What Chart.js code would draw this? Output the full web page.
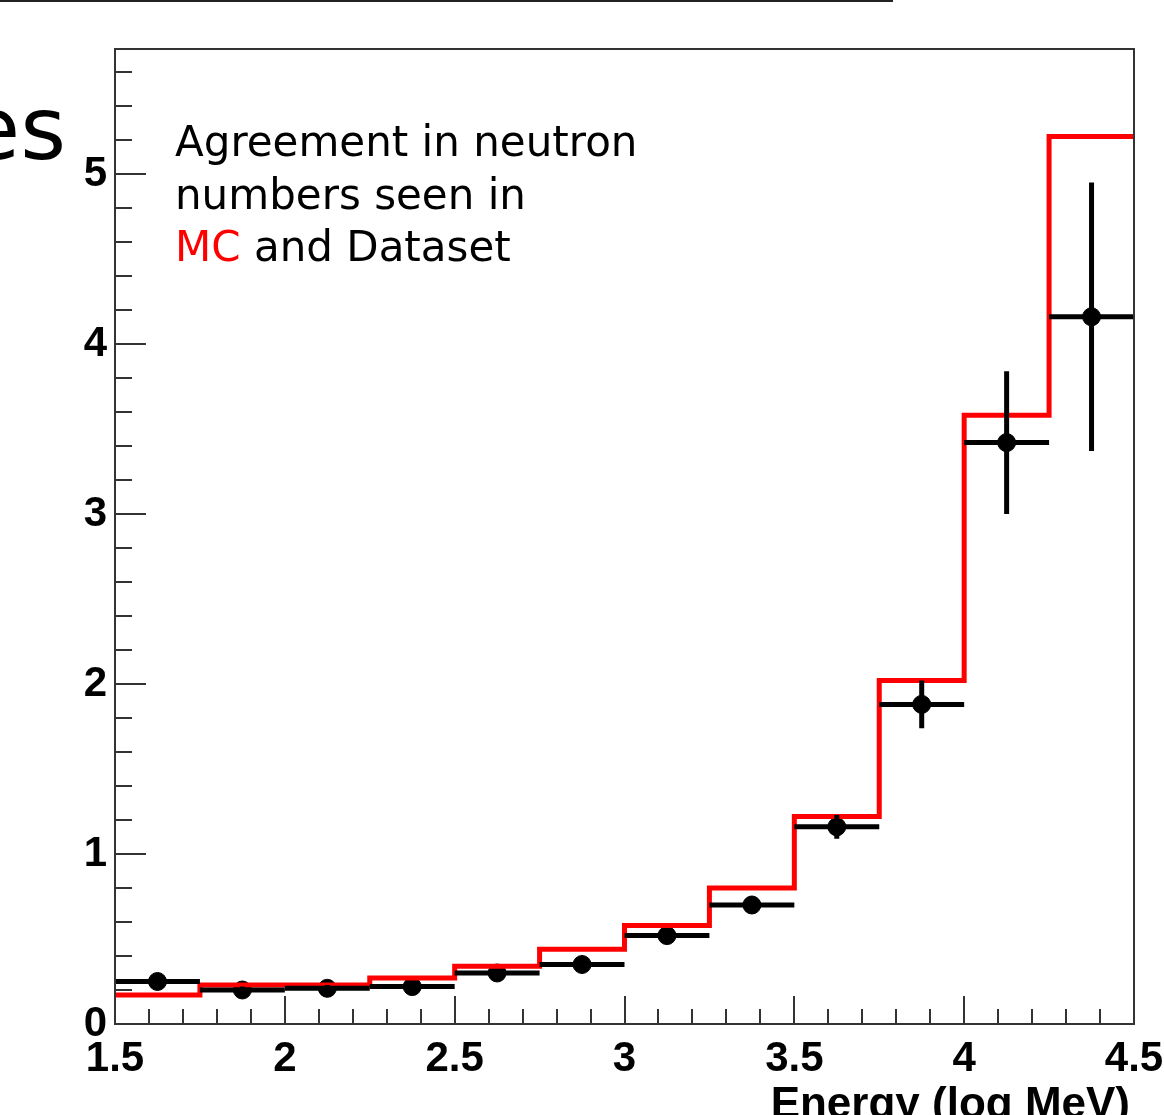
<!DOCTYPE html>
<html>
<head>
<meta charset="utf-8">
<script src="https://cdn.jsdelivr.net/npm/chart.js@4.4.0/dist/chart.umd.min.js"></script>
<style>
  body { margin: 0; background: #fff; }
  #wrap { position: relative; width: 1164px; height: 1115px; overflow: hidden; }
  #topline { position: absolute; left: 0; top: 0; width: 893px; height: 2px; background: #222; }
  #big { position: absolute; left: -34px; top: 85px; font: 88px/88px "DejaVu Sans"; color: #000; }
  #note { position: absolute; left: 175px; top: 116px; font: 42px/52.5px "DejaVu Sans"; color: #000; white-space: nowrap; }
  #note .mc { color: #ff0000; }
  canvas { position: absolute; left: 0; top: 0; }
</style>
</head>
<body>
<div id="wrap">
  <canvas id="histChart" width="1164" height="1115"></canvas>
  <div id="topline"></div>
  <div id="big">es</div>
  <div id="note">Agreement in neutron<br>numbers seen in<br><span class="mc">MC</span> and Dataset</div>
</div>
<script>
// bins in log energy, 0.25 wide
const binLo = [1.5, 1.75, 2.0, 2.25, 2.5, 2.75, 3.0, 3.25, 3.5, 3.75, 4.0, 4.25];
const binWidth = 0.25;
// MC histogram (red)
const mcValues = [0.17, 0.23, 0.23, 0.27, 0.34, 0.44, 0.58, 0.80, 1.22, 2.02, 3.58, 5.22];
// dataset points (black) and their errors
const dataValues = [0.25, 0.20, 0.21, 0.22, 0.30, 0.35, 0.52, 0.70, 1.16, 1.88, 3.42, 4.16];
const dataErrors = [0.02, 0.02, 0.02, 0.02, 0.02, 0.03, 0.04, 0.05, 0.07, 0.14, 0.42, 0.79];
const xTickValues = [1.5, 2, 2.5, 3, 3.5, 4, 4.5];
const yTickValues = [0, 1, 2, 3, 4, 5];
const xMin = 1.5, xMax = 4.5, yMin = 0, yMax = 5.735;

// step line: one point per bin edge, last bin repeated to close at 4.5
const stepPoints = binLo.map((x, i) => ({ x: x, y: mcValues[i] }));
stepPoints.push({ x: binLo[binLo.length - 1] + binWidth, y: mcValues[mcValues.length - 1] });
const dataPoints = binLo.map((x, i) => ({ x: x + binWidth / 2, y: dataValues[i] }));

const frameColor = "#333";

// ROOT-like frame, inward ticks, error bars and axis title
const rootStyle = {
  id: "rootStyle",
  afterDatasetsDraw(chart) {
    const ctx = chart.ctx;
    const xs = chart.scales.x, ys = chart.scales.y;
    ctx.save();
    ctx.strokeStyle = "#000";
    ctx.lineWidth = 5;
    ctx.lineCap = "butt";
    binLo.forEach((lo, i) => {
      const yp = ys.getPixelForValue(dataValues[i]);
      const xc = xs.getPixelForValue(lo + binWidth / 2);
      ctx.beginPath();
      ctx.moveTo(xs.getPixelForValue(lo), yp);
      ctx.lineTo(xs.getPixelForValue(lo + binWidth), yp);
      ctx.moveTo(xc, ys.getPixelForValue(dataValues[i] - dataErrors[i]));
      ctx.lineTo(xc, ys.getPixelForValue(dataValues[i] + dataErrors[i]));
      ctx.stroke();
    });
    ctx.restore();
  },
  afterDraw(chart) {
    const ctx = chart.ctx;
    const a = chart.chartArea;
    const xs = chart.scales.x, ys = chart.scales.y;
    ctx.save();
    ctx.strokeStyle = frameColor;
    ctx.lineWidth = 2;
    ctx.strokeRect(a.left, a.top, a.right - a.left, a.bottom - a.top);
    ctx.beginPath();
    // y ticks every 0.2, major each 1
    for (let k = 0; k * 0.2 <= yMax; k++) {
      const yp = Math.round(ys.getPixelForValue(k * 0.2));
      const len = k % 5 === 0 ? 31 : 17;
      ctx.moveTo(a.left, yp);
      ctx.lineTo(a.left + len, yp);
    }
    // x ticks every 0.1, major each 0.5
    for (let k = 0; k <= 30; k++) {
      const xp = Math.round(xs.getPixelForValue(xMin + k * 0.1));
      const len = k % 5 === 0 ? 28 : 15;
      ctx.moveTo(xp, a.bottom);
      ctx.lineTo(xp, a.bottom - len);
    }
    ctx.stroke();
    ctx.fillStyle = "#000";
    ctx.font = "bold 44px 'Liberation Sans'";
    ctx.textAlign = "right";
    ctx.textBaseline = "alphabetic";
    ctx.fillText("Energy (log MeV)", 1130, 1118);
    ctx.restore();
  }
};

new Chart(document.getElementById("histChart"), {
  type: "scatter",
  data: {
    datasets: [
      {
        type: "line",
        label: "MC",
        data: stepPoints,
        stepped: "before",
        borderColor: "#ff0000",
        borderWidth: 5,
        borderJoinStyle: "miter",
        pointRadius: 0,
        fill: false,
      },
      {
        label: "Dataset",
        data: dataPoints,
        backgroundColor: "#000",
        borderColor: "#000",
        pointRadius: 9,
        pointHoverRadius: 9,
      },
    ],
  },
  options: {
    responsive: false,
    animation: false,
    events: [],
    layout: { padding: { top: 49, right: 30, left: 0, bottom: 0 } },
    plugins: { legend: { display: false }, tooltip: { enabled: false } },
    scales: {
      x: {
        type: "linear",
        min: xMin,
        max: xMax,
        afterFit: (scale) => {
          scale.height = 91;
          scale.paddingLeft = 0;
          scale.paddingRight = 0;
        },
        afterBuildTicks: (scale) => { scale.ticks = xTickValues.map((v) => ({ value: v })); },
        grid: { display: false, drawTicks: false },
        border: { display: false },
        ticks: {
          color: "#000",
          padding: 10,
          maxRotation: 0,
          autoSkip: false,
          font: { family: "Liberation Sans", weight: "bold", size: 42 },
          callback: (v) => String(v),
        },
      },
      y: {
        type: "linear",
        min: yMin,
        max: yMax,
        afterFit: (scale) => {
          scale.width = 115;
          scale.paddingTop = 0;
          scale.paddingBottom = 0;
        },
        afterBuildTicks: (scale) => { scale.ticks = yTickValues.map((v) => ({ value: v })); },
        grid: { display: false, drawTicks: false },
        border: { display: false },
        ticks: {
          color: "#000",
          padding: 8,
          autoSkip: false,
          font: { family: "Liberation Sans", weight: "bold", size: 42 },
          callback: (v) => String(v),
        },
      },
    },
  },
  plugins: [rootStyle],
});
</script>
</body>
</html>
